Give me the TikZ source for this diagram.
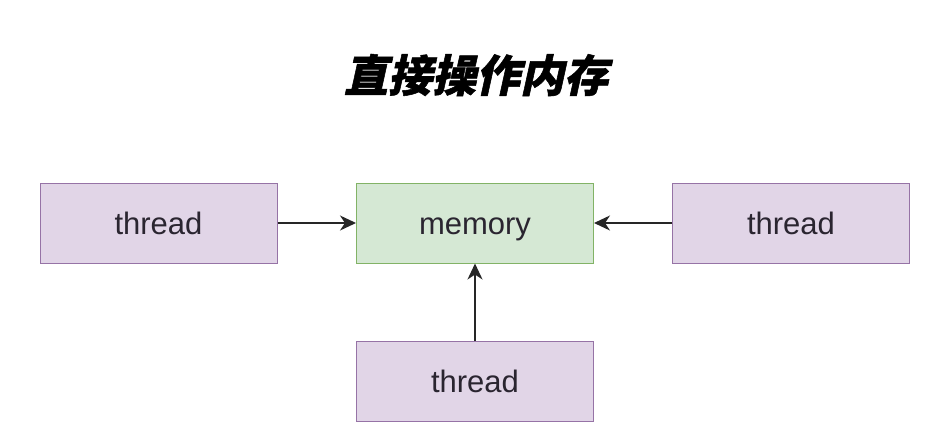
\documentclass[tikz,border=0pt]{standalone}
\usepackage{fontspec}
\setmainfont{Liberation Sans}
\newfontfamily\cjktitle[FakeSlant=0.22,FakeBold=1.2]{Noto Sans CJK SC}
\usetikzlibrary{arrows.meta}
\definecolor{threadfill}{HTML}{E1D5E7}
\definecolor{threaddraw}{HTML}{9673A6}
\definecolor{memfill}{HTML}{D5E8D4}
\definecolor{memdraw}{HTML}{82B366}
\definecolor{textgray}{HTML}{2A2530}
\tikzset{
  box/.style={draw, line width=1pt, minimum width=237pt, minimum height=80pt,
    inner sep=0pt, text height=22pt, text depth=0pt,
    font=\fontsize{31}{34}\selectfont, text=textgray},
  threadbox/.style={box, fill=threadfill, draw=threaddraw},
  membox/.style={box, fill=memfill, draw=memdraw},
  link/.style={-{Stealth[length=16pt,width=15pt,inset=5pt]}, line width=1.8pt, draw=black!85}
}
\begin{document}
\begin{tikzpicture}[x=1pt,y=1pt]
	\useasboundingbox[fill=white] (0,0) rectangle (931,432);
	\node	(title) at (476,357) {\cjktitle\bfseries\fontsize{44}{48}\selectfont 直接操作内存};
	\node	(mem) at (475,209) [membox] {memory};
	\node	(tl) at (158.5,209) [threadbox] {thread};
	\node	(tr) at (791,209) [threadbox] {thread};
	\node	(tb) at (475,51) [threadbox] {thread};
	\draw
	(tl) edge[link] (mem)
	(tr) edge[link] (mem)
	(tb) edge[link] (mem)
	;
\end{tikzpicture}
\end{document}
